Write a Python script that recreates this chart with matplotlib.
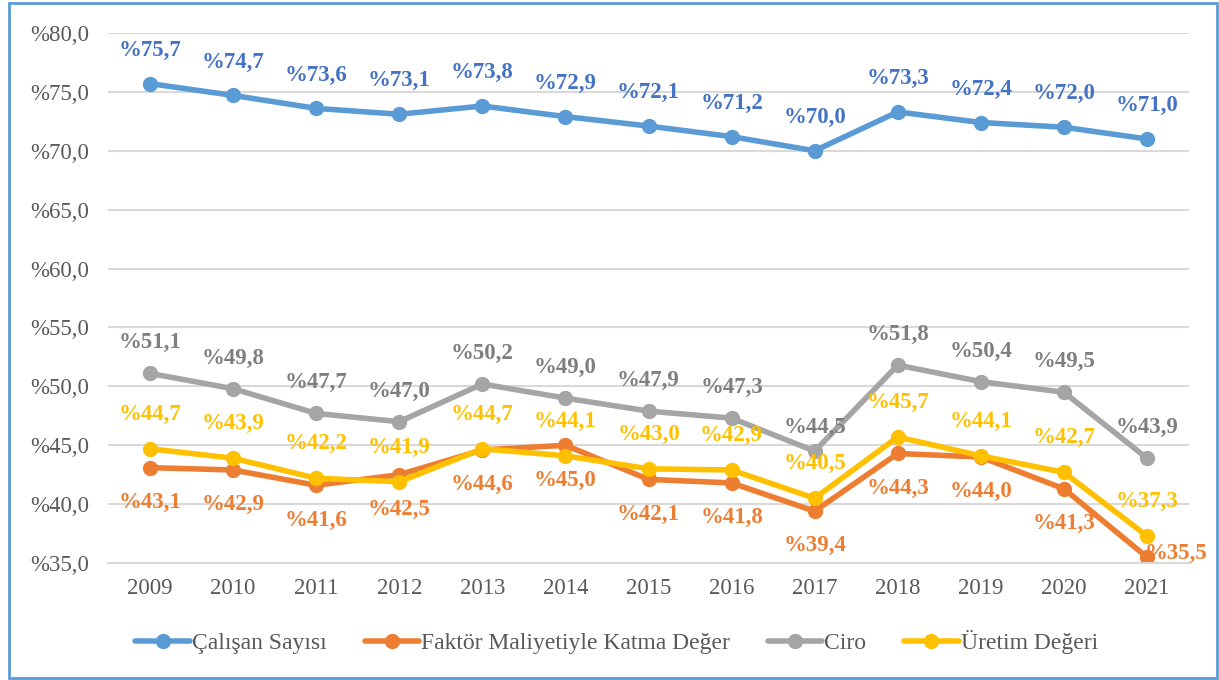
import matplotlib.pyplot as plt
from matplotlib.patches import Rectangle

years = ["2009", "2010", "2011", "2012", "2013", "2014", "2015",
         "2016", "2017", "2018", "2019", "2020", "2021"]
calisan = [75.7, 74.7, 73.6, 73.1, 73.8, 72.9, 72.1, 71.2, 70.0, 73.3, 72.4, 72.0, 71.0]
faktor = [43.1, 42.9, 41.6, 42.5, 44.6, 45.0, 42.1, 41.8, 39.4, 44.3, 44.0, 41.3, 35.5]
ciro = [51.1, 49.8, 47.7, 47.0, 50.2, 49.0, 47.9, 47.3, 44.5, 51.8, 50.4, 49.5, 43.9]
uretim = [44.7, 43.9, 42.2, 41.9, 44.7, 44.1, 43.0, 42.9, 40.5, 45.7, 44.1, 42.7, 37.3]
yticks = [35, 40, 45, 50, 55, 60, 65, 70, 75, 80]

plt.rcParams['font.family'] = ['Liberation Serif', 'DejaVu Serif']

fig = plt.figure(figsize=(12.19, 6.8), dpi=100)
ax = fig.add_axes([0.089, 0.172, 0.886, 0.7795])

x = list(range(len(years)))
series = [
    ("Çalışan Sayısı", calisan, "#5B9BD5", "#4472C4", 24),
    ("Faktör Maliyetiyle Katma Değer", faktor, "#ED7D31", "#ED7D31", -25),
    ("Ciro", ciro, "#A5A5A5", "#7F7F7F", 22),
    ("Üretim Değeri", uretim, "#FFC000", "#FFC000", 25),
]
for name, vals, col, tcol, off in series:
    ax.plot(x, vals, color=col, lw=4, marker="o", ms=10, label=name,
            solid_capstyle="round")
    for i, v in enumerate(vals):
        dx, dy = 0, off
        if name.startswith("Faktör") and i == len(vals) - 1:
            dx, dy = 21, 3
        if name == "Ciro" and i == 8:
            dy = 17
        ax.annotate("%" + f"{v:.1f}".replace(".", ","), (i, v),
                    xytext=(dx, dy), textcoords="offset points",
                    ha="center", va="center", fontsize=16.5, fontweight="bold",
                    color=tcol)

ax.set_xlim(-0.5, len(years) - 0.5)
ax.set_ylim(35, 80)
ax.set_yticks(yticks)
ax.set_yticklabels(["%" + f"{t:.1f}".replace(".", ",") for t in yticks])
ax.set_xticks(x)
ax.set_xticklabels(years)
ax.tick_params(length=0, labelsize=16.5, labelcolor="#595959")
ax.tick_params(axis="y", pad=14)
ax.tick_params(axis="x", pad=11)
ax.grid(axis="y", color="#D9D9D9", lw=1.5)
ax.set_axisbelow(True)
for s in ["top", "right", "left"]:
    ax.spines[s].set_visible(False)
ax.spines["bottom"].set_color("#D9D9D9")
ax.spines["bottom"].set_linewidth(1.5)

fig.legend(loc="center", bbox_to_anchor=(0.506, 0.056), ncol=4, frameon=False,
           fontsize=17, labelcolor="#595959", handlelength=2.3,
           columnspacing=1.6, handletextpad=0.1)

fig.patches.append(Rectangle((9 / 1219, 2 / 680), 1208 / 1219, 675 / 680,
                             transform=fig.transFigure, fill=False,
                             edgecolor="#5B9BD5", lw=2))

fig.savefig("out.png", dpi=100)
